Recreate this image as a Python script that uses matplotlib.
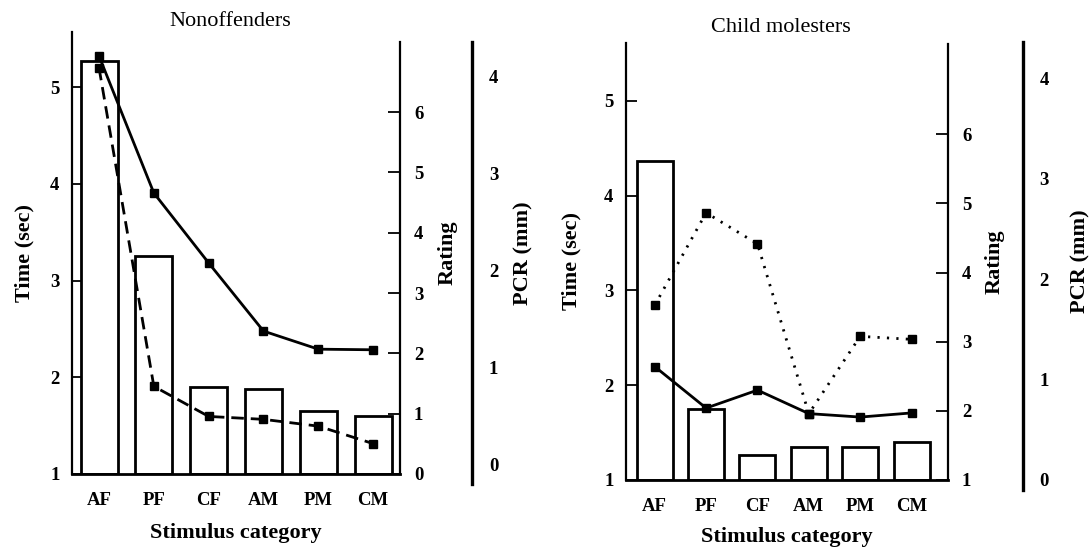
import numpy as np
import matplotlib
matplotlib.use("Agg")
import matplotlib.pyplot as plt

plt.rcParams['font.family'] = ['Liberation Serif', 'DejaVu Serif']
plt.rcParams['font.weight'] = 'bold'

categories = ['AF', 'PF', 'CF', 'AM', 'PM', 'CM']

# Nonoffenders
non_time = [5.27, 3.25, 1.90, 1.88, 1.65, 1.60]
non_rating = [6.93, 4.66, 3.50, 2.37, 2.07, 2.06]
non_pcr = [4.09, 0.81, 0.50, 0.47, 0.40, 0.22]

# Child molesters
cm_time = [4.37, 1.75, 1.26, 1.35, 1.35, 1.40]
cm_rating = [2.64, 2.04, 2.30, 1.96, 1.91, 1.97]
cm_pcr = [1.74, 2.66, 2.35, 0.66, 1.43, 1.40]

W, H = 1091, 549
fig = plt.figure(figsize=(W / 100, H / 100), dpi=100)


def px_rect(x0, x1, ytop, ybot):
    return [x0 / W, 1 - ybot / H, (x1 - x0) / W, (ybot - ytop) / H]


def panel(rect, title, title_xy, time, rating, pcr, pcr_style,
          xlim, bar_w, time_lim, rating_lim, rating_bounds, rating_ticks,
          pcr_lim, pcr_bounds, pcr_pos, lab_x):
    x = np.arange(len(categories))
    ax = fig.add_axes(rect)
    ax.bar(x, np.array(time) - time_lim[0], bottom=time_lim[0], width=bar_w,
           facecolor='white', edgecolor='black', linewidth=2.0, zorder=2)
    ax.set_xlim(*xlim)
    ax.set_ylim(*time_lim)
    ax.set_yticks([1, 2, 3, 4, 5])
    ax.set_xticks(x)
    ax.set_xticklabels(categories)
    ax.tick_params(axis='x', length=0, pad=13, labelsize=13.5)
    ax.tick_params(axis='y', direction='in', length=8, width=1.3, pad=9,
                   labelsize=13.5)
    for s in ['top', 'right']:
        ax.spines[s].set_visible(False)
    ax.spines['left'].set_linewidth(1.6)
    ax.spines['bottom'].set_linewidth(2.0)
    ax.text(lab_x[0], 0.5, 'Time (sec)', transform=ax.transAxes,
            rotation=90, ha='center', va='center', fontsize=16)
    ax.text(0.5, lab_x[3], 'Stimulus category', transform=ax.transAxes,
            ha='center', va='center', fontsize=16)

    # rating axis
    ax2 = ax.twinx()
    ax2.set_ylim(*rating_lim)
    ax2.set_yticks(rating_ticks)
    ax2.spines['right'].set_bounds(*rating_bounds)
    ax2.spines['right'].set_linewidth(1.6)
    for s in ['top', 'left', 'bottom']:
        ax2.spines[s].set_visible(False)
    ax2.tick_params(axis='y', direction='in', length=9, width=1.3, pad=10,
                    labelsize=13.5)
    ax2.plot(x, rating, color='black', linewidth=2.0, marker='s',
             markersize=5.5, zorder=3)
    ax2.text(lab_x[1], 0.5, 'Rating', transform=ax2.transAxes,
             rotation=90, ha='center', va='center', fontsize=16)

    # PCR axis
    ax3 = ax.twinx()
    ax3.set_ylim(*pcr_lim)
    ax3.set_yticks([0, 1, 2, 3, 4])
    ax3.spines['right'].set_position(('axes', pcr_pos))
    ax3.spines['right'].set_bounds(*pcr_bounds)
    ax3.spines['right'].set_linewidth(2.4)
    for s in ['top', 'left', 'bottom']:
        ax3.spines[s].set_visible(False)
    ax3.tick_params(axis='y', length=0, pad=12, labelsize=13.5)
    ax3.plot(x, pcr, color='black', linewidth=2.0, linestyle=pcr_style,
             marker='s', markersize=5.5, zorder=3)
    ax3.text(lab_x[2], 0.5, 'PCR (mm)', transform=ax3.transAxes,
             rotation=90, ha='center', va='center', fontsize=16)

    fig.text(title_xy[0] / W, 1 - title_xy[1] / H, title,
             ha='center', va='center', fontsize=16, fontweight='normal')


panel(px_rect(72, 400, 32, 474), 'Nonoffenders', (230, 22),
      non_time, non_rating, non_pcr, (0, (4.5, 2.5)),
      xlim=(-0.493, 5.49), bar_w=0.675, time_lim=(1, 5.57),
      rating_lim=(0, 7.33), rating_bounds=(0, 7.16), rating_ticks=range(0, 7),
      pcr_lim=(-0.093, 4.46), pcr_bounds=(-0.2, 4.36), pcr_pos=1.22,
      lab_x=(-0.145, 1.146, 1.378, -0.133))

panel(px_rect(626, 948, 43, 480), 'Child molesters', (781, 27),
      cm_time, cm_rating, cm_pcr, (0, (0.8, 2.6)),
      xlim=(-0.56, 5.71), bar_w=0.70, time_lim=(1, 5.61),
      rating_lim=(1, 7.32), rating_bounds=(1, 7.31), rating_ticks=range(1, 7),
      pcr_lim=(0, 4.35), pcr_bounds=(-0.1, 4.36), pcr_pos=1.233,
      lab_x=(-0.168, 1.146, 1.41, -0.130))

fig.savefig('out.png', dpi=100)
